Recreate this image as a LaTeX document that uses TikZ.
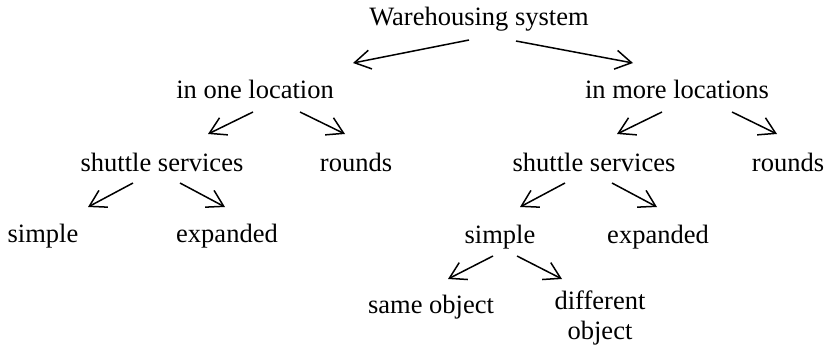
\documentclass[tikz,border=0pt]{standalone}
\usepackage{fontspec}
\setmainfont{Liberation Serif}
\usetikzlibrary{arrows.meta}
\begin{document}
\begin{tikzpicture}[x=1pt,y=-1pt,
  lbl/.style={anchor=base,inner sep=0pt,font=\fontsize{26.5}{30}\selectfont,align=center},
  arr/.style={-{Straight Barb[length=16pt,width=19pt,line width=1.5pt]},line width=1.5pt}]
\useasboundingbox (0,0) rectangle (828,354);
% labels
\node[lbl] (ws)  at (479,25)  {Warehousing system};
\node[lbl] (iol) at (255,98)  {in one location};
\node[lbl] (iml) at (677,98)  {in more locations};
\node[lbl] (ss1) at (162,171) {shuttle services};
\node[lbl] (r1)  at (356,171) {rounds};
\node[lbl] (ss2) at (594,171) {shuttle services};
\node[lbl] (r2)  at (788,171) {rounds};
\node[lbl] (s1)  at (43,242)  {simple};
\node[lbl] (e1)  at (227,242) {expanded};
\node[lbl] (s2)  at (500,243) {simple};
\node[lbl] (e2)  at (658,243) {expanded};
\node[lbl] (so)  at (431,313) {same object};
\node[lbl,anchor=north] (do) at (600,291) {different\\object};
% arrow end points
\coordinate (a1a) at (469,40);  \coordinate (a1b) at (353,63);
\coordinate (a2a) at (516,41);  \coordinate (a2b) at (633,63);
\coordinate (a3a) at (253,112); \coordinate (a3b) at (208,134);
\coordinate (a4a) at (300,112); \coordinate (a4b) at (345,134);
\coordinate (a5a) at (662,112); \coordinate (a5b) at (617,134);
\coordinate (a6a) at (732,112); \coordinate (a6b) at (777,134);
\coordinate (a7a) at (133,183); \coordinate (a7b) at (88,207);
\coordinate (a8a) at (180,183); \coordinate (a8b) at (225,207);
\coordinate (a9a) at (565,183); \coordinate (a9b) at (520,207);
\coordinate (a10a) at (612,183); \coordinate (a10b) at (657,207);
\coordinate (a11a) at (493,256); \coordinate (a11b) at (448,279);
\coordinate (a12a) at (517,256); \coordinate (a12b) at (562,279);
\foreach \i in {1,...,12} \draw[arr] (a\i a) -- (a\i b);
\end{tikzpicture}
\end{document}
